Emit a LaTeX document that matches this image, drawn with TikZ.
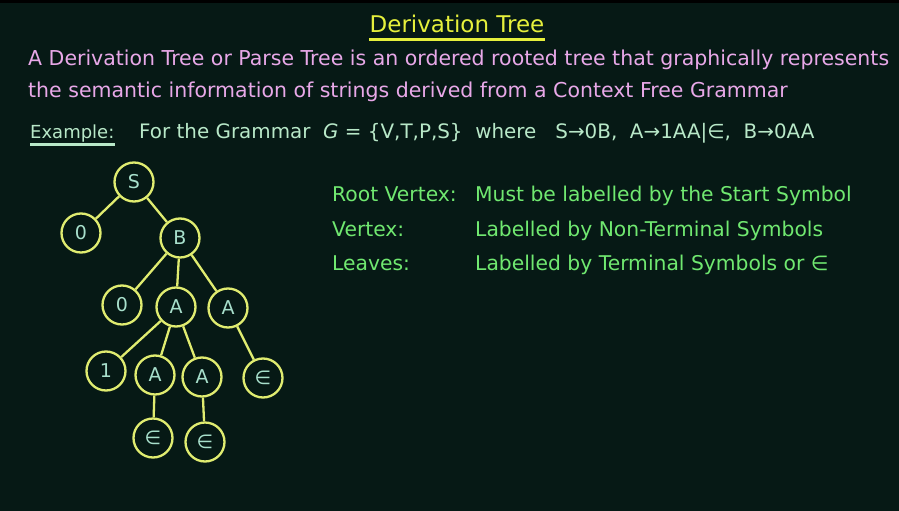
\documentclass[tikz,border=0pt]{standalone}
\usepackage{fontspec}
\setmainfont{DejaVu Sans}
\usetikzlibrary{positioning}
\definecolor{dtBoard}{RGB}{6,25,21}
\definecolor{dtTitle}{RGB}{230,240,60}
\definecolor{dtPink}{RGB}{232,168,232}
\definecolor{dtMint}{RGB}{184,232,200}
\definecolor{dtGreen}{RGB}{112,232,112}
\definecolor{dtRing}{RGB}{224,236,112}
\definecolor{dtLabel}{RGB}{168,224,204}
\newcommand{\dtfont}[1]{\fontsize{#1}{#1}\selectfont}

\begin{document}
\begin{tikzpicture}[x=1pt,y=-1pt,
  vtx/.style={circle,draw=dtRing,line width=2.3pt,minimum size=39pt,
    inner sep=0pt,font=\dtfont{19},text=dtLabel},
  branch/.style={draw=dtRing,line width=2.3pt},
  txt/.style={anchor=base west,inner sep=0pt}]
  \fill[dtBoard] (0,0) rectangle (899,511);
  \fill[black] (0,0) rectangle (899,3);
  \useasboundingbox (0,0) rectangle (899,511);

  % heading
  \node[anchor=base,inner sep=0pt,font=\dtfont{23},text=dtTitle] (title) at (457,33) {Derivation Tree};
  \draw[dtTitle,line width=2.4pt] ([yshift=-6.5pt]title.base west) -- ([yshift=-6.5pt]title.base east);
  \node[txt,font=\dtfont{20.5},text=dtPink] (def1) at (28,66)
    {A Derivation Tree or Parse Tree is an ordered rooted tree that graphically represents};
  \node[txt,font=\dtfont{20.5},text=dtPink] (def2) at (28,97)
    {the semantic information of strings derived from a Context Free Grammar};

  % example line
  \node[txt,font=\dtfont{18},text=dtMint] (ex) at (30,138) {Example:};
  \draw[dtMint,line width=2.4pt] ([yshift=-6.5pt]ex.base west) -- ([yshift=-6.5pt]ex.base east);
  \node[txt,font=\dtfont{19.9},text=dtMint] (gram) at (139,138)
    {For the Grammar\ \ \textit{G} = \{V,T,P,S\}\ \ where\ \ \ S→0B,\ \ A→1AA|∈,\ \ B→0AA};

  % vertex rules
  \foreach \nm/\yy/\hd/\bd in {rroot/201/Root Vertex:/Must be labelled by the Start Symbol,
                               rvtx/236/Vertex:/Labelled by Non-Terminal Symbols,
                               rleaf/270/Leaves:/Labelled by Terminal Symbols or ∈} {
    \node[txt,font=\dtfont{20.3},text=dtGreen] (\nm) at (332,\yy) {\hd};
    \node[txt,font=\dtfont{20.3},text=dtGreen] (\nm b) at (475,\yy) {\bd};
  }

  % tree
  \node[vtx] (s)  at (134,182) {S};
  \node[vtx] (z1) at (81,233)  {0};
  \node[vtx] (b)  at (180,238) {B};
  \node[vtx] (z2) at (122,305) {0};
  \node[vtx] (a1) at (176,307) {A};
  \node[vtx] (a2) at (228,308) {A};
  \node[vtx] (o)  at (106,371) {1};
  \node[vtx] (a3) at (155,375) {A};
  \node[vtx] (a4) at (202,377) {A};
  \node[vtx] (e1) at (263,378) {∈};
  \node[vtx] (e2) at (153,438) {∈};
  \node[vtx] (e3) at (205,442) {∈};
  \foreach \p/\c in {s/z1,s/b,b/z2,b/a1,b/a2,a1/o,a1/a3,a1/a4,a2/e1,a3/e2,a4/e3}
    \draw[branch] (\p) -- (\c);
\end{tikzpicture}
\end{document}
